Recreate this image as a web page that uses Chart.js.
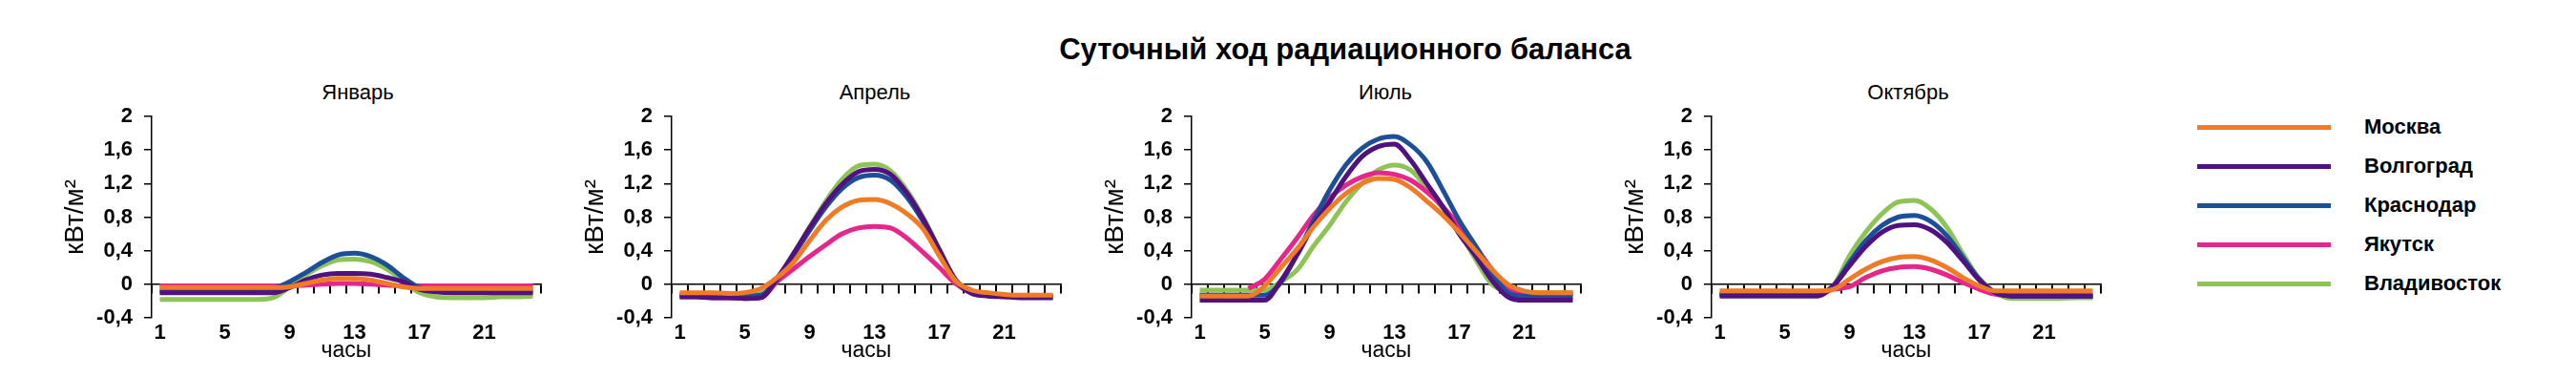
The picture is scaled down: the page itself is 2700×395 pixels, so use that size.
<!DOCTYPE html>
<html lang="ru">
<head>
  <meta charset="UTF-8" />
  <title>Суточный ход радиационного баланса</title>
  <script src="https://cdn.jsdelivr.net/npm/chart.js"></script>
  <style>
    body {
      margin: 0;
      width: 2700px;
      height: 395px;
      background: #fff;
      position: relative;
      overflow: hidden;
      font-family: 'Liberation Sans', Arial, sans-serif;
      color: #000;
    }
    #title {
      position: absolute;
      left: 1410px;
      top: 36px;
      transform: translateX(-50%);
      font-size: 31px;
      line-height: 31px;
      font-weight: bold;
      white-space: nowrap;
    }
    .month {
      position: absolute;
      top: 85px;
      transform: translateX(-50%);
      font-size: 22px;
      line-height: 24px;
      white-space: nowrap;
    }
    .panel {
      position: absolute;
      top: 0;
    }
    .legend-line {
      position: absolute;
      left: 2303px;
      width: 140px;
      height: 5px;
    }
    .legend-text {
      position: absolute;
      left: 2478px;
      font-size: 22px;
      line-height: 26px;
      font-weight: bold;
      white-space: nowrap;
    }
  </style>
</head>
<body>

  <div id="title">Суточный ход радиационного баланса</div>

  <script>
    const hours = [1, 2, 3, 4, 5, 6, 7, 8, 9, 10, 11, 12, 13, 14, 15, 16, 17, 18, 19, 20, 21, 22, 23, 24];
    const hourTicks = [1, 5, 9, 13, 17, 21];
    const yTicks = [-0.4, 0, 0.4, 0.8, 1.2, 1.6, 2];
    const yTickLabels = ['-0,4', '0', '0,4', '0,8', '1,2', '1,6', '2'];
    const months = ['Январь', 'Апрель', 'Июль', 'Октябрь'];
    const cities = ['Москва', 'Волгоград', 'Краснодар', 'Якутск', 'Владивосток'];
    const cityColors = ['#ef7b26', '#511180', '#1c4f97', '#e5268b', '#8ec456'];

    // январь
    const janMoskva = [-0.04, -0.04, -0.04, -0.04, -0.04, -0.04, -0.04, -0.04, -0.03, 0.01, 0.05, 0.07, 0.07, 0.05, 0.01, -0.03, -0.05, -0.05, -0.05, -0.05, -0.05, -0.05, -0.05, -0.05];
    const janVolgograd = [-0.10, -0.10, -0.10, -0.10, -0.10, -0.10, -0.10, -0.10, -0.04, 0.05, 0.11, 0.13, 0.13, 0.12, 0.08, 0.03, -0.06, -0.09, -0.10, -0.10, -0.10, -0.10, -0.10, -0.10];
    const janKrasnodar = [-0.08, -0.08, -0.08, -0.08, -0.08, -0.08, -0.08, -0.05, 0.03, 0.14, 0.26, 0.35, 0.37, 0.33, 0.23, 0.08, -0.04, -0.08, -0.08, -0.08, -0.08, -0.08, -0.08, -0.08];
    const janYakutsk = [-0.02, -0.02, -0.02, -0.02, -0.02, -0.02, -0.02, -0.02, -0.02, -0.01, 0.00, 0.01, 0.01, 0.00, -0.01, -0.02, -0.02, -0.02, -0.02, -0.02, -0.02, -0.02, -0.02, -0.02];
    const janVladivostok = [-0.18, -0.18, -0.18, -0.18, -0.18, -0.18, -0.18, -0.16, -0.03, 0.11, 0.22, 0.29, 0.30, 0.27, 0.18, 0.04, -0.10, -0.15, -0.16, -0.16, -0.16, -0.15, -0.15, -0.14];

    // апрель
    const aprMoskva = [-0.10, -0.10, -0.10, -0.11, -0.10, -0.05, 0.08, 0.26, 0.52, 0.76, 0.92, 1.00, 1.01, 0.96, 0.84, 0.66, 0.34, 0.04, -0.07, -0.10, -0.12, -0.13, -0.13, -0.13];
    const aprVolgograd = [-0.15, -0.15, -0.16, -0.16, -0.17, -0.16, 0.07, 0.36, 0.67, 0.96, 1.19, 1.34, 1.37, 1.31, 1.09, 0.78, 0.41, 0.05, -0.11, -0.14, -0.15, -0.16, -0.16, -0.16];
    const aprKrasnodar = [-0.13, -0.13, -0.13, -0.13, -0.14, -0.13, 0.06, 0.34, 0.64, 0.92, 1.14, 1.27, 1.30, 1.24, 1.04, 0.75, 0.40, 0.05, -0.09, -0.12, -0.13, -0.14, -0.14, -0.14];
    const aprYakutsk = [-0.15, -0.15, -0.16, -0.16, -0.17, -0.16, 0.03, 0.18, 0.33, 0.47, 0.60, 0.67, 0.69, 0.67, 0.55, 0.38, 0.20, 0.01, -0.10, -0.13, -0.14, -0.15, -0.15, -0.15];
    const aprVladivostok = [-0.12, -0.12, -0.12, -0.12, -0.12, -0.11, 0.07, 0.36, 0.68, 0.99, 1.25, 1.41, 1.43, 1.35, 1.12, 0.80, 0.42, 0.06, -0.09, -0.12, -0.13, -0.14, -0.14, -0.14];

    // июль
    const julMoskva = [-0.14, -0.14, -0.14, -0.14, -0.02, 0.20, 0.42, 0.68, 0.90, 1.08, 1.20, 1.26, 1.25, 1.15, 0.99, 0.82, 0.62, 0.40, 0.18, 0.00, -0.08, -0.10, -0.10, -0.10];
    const julVolgograd = [-0.19, -0.19, -0.19, -0.19, -0.19, 0.04, 0.35, 0.70, 0.98, 1.28, 1.52, 1.64, 1.67, 1.48, 1.20, 0.92, 0.60, 0.34, 0.05, -0.15, -0.19, -0.19, -0.19, -0.19];
    const julKrasnodar = [-0.13, -0.13, -0.13, -0.13, -0.13, 0.02, 0.36, 0.75, 1.12, 1.42, 1.62, 1.73, 1.76, 1.66, 1.46, 1.12, 0.76, 0.46, 0.14, -0.10, -0.14, -0.14, -0.14, -0.14];
    const julYakutsk = [null, null, null, -0.05, 0.06, 0.30, 0.55, 0.82, 1.03, 1.18, 1.28, 1.33, 1.31, 1.24, 1.10, 0.92, 0.70, 0.45, 0.18, -0.05, -0.12, -0.12, -0.12, -0.12];
    const julVladivostok = [-0.07, -0.07, -0.07, -0.07, -0.07, 0.03, 0.17, 0.45, 0.70, 0.98, 1.20, 1.36, 1.42, 1.36, 1.15, 0.90, 0.63, 0.30, 0.00, -0.08, -0.10, -0.10, -0.10, -0.10];

    // октябрь
    const octMoskva = [-0.08, -0.08, -0.08, -0.08, -0.08, -0.08, -0.08, -0.06, 0.06, 0.18, 0.27, 0.32, 0.33, 0.29, 0.20, 0.08, -0.02, -0.08, -0.08, -0.08, -0.08, -0.08, -0.08, -0.08];
    const octVolgograd = [-0.14, -0.14, -0.14, -0.14, -0.14, -0.14, -0.14, -0.02, 0.22, 0.45, 0.62, 0.70, 0.71, 0.65, 0.50, 0.28, 0.05, -0.10, -0.14, -0.14, -0.14, -0.14, -0.14, -0.14];
    const octKrasnodar = [-0.12, -0.12, -0.12, -0.12, -0.12, -0.12, -0.12, -0.02, 0.26, 0.52, 0.70, 0.80, 0.82, 0.75, 0.58, 0.32, 0.06, -0.10, -0.14, -0.14, -0.14, -0.14, -0.14, -0.14];
    const octYakutsk = [-0.12, -0.12, -0.12, -0.12, -0.12, -0.12, -0.12, -0.06, -0.03, 0.08, 0.16, 0.20, 0.21, 0.18, 0.11, 0.02, -0.06, -0.12, -0.13, -0.13, -0.13, -0.13, -0.13, -0.13];
    const octVladivostok = [-0.12, -0.12, -0.12, -0.12, -0.12, -0.12, -0.12, -0.02, 0.34, 0.62, 0.84, 0.98, 1.00, 0.90, 0.68, 0.36, 0.07, -0.10, -0.17, -0.17, -0.17, -0.17, -0.16, -0.16];

    const monthSeries = [
      [janMoskva, janVolgograd, janKrasnodar, janYakutsk, janVladivostok],
      [aprMoskva, aprVolgograd, aprKrasnodar, aprYakutsk, aprVladivostok],
      [julMoskva, julVolgograd, julKrasnodar, julYakutsk, julVladivostok],
      [octMoskva, octVolgograd, octKrasnodar, octYakutsk, octVladivostok]
    ];

    // page layout
    const axisLeft = [159, 704, 1249, 1794];
    const monthCenter = [375, 917, 1452, 2000];
    const yAxisWidth = 100;
    const canvasW = 513;
    const canvasH = 395;

    Chart.defaults.font.family = "'Liberation Sans', Arial, sans-serif";
    Chart.defaults.color = '#000';

    months.forEach((month, i) => {
      const label = document.createElement('div');
      label.className = 'month';
      label.style.left = monthCenter[i] + 'px';
      label.textContent = month;
      document.body.appendChild(label);

      const box = document.createElement('div');
      box.className = 'panel';
      box.style.left = (axisLeft[i] - yAxisWidth) + 'px';
      const canvas = document.createElement('canvas');
      canvas.width = canvasW;
      canvas.height = canvasH;
      box.appendChild(canvas);
      document.body.appendChild(box);

      new Chart(canvas, {
        type: 'line',
        data: {
          datasets: cities.map((city, k) => ({
            label: city,
            data: hours.map((h, j) => ({ x: h, y: monthSeries[i][k][j] })),
            borderColor: cityColors[k],
            backgroundColor: cityColors[k],
            borderWidth: 5,
            pointRadius: 0,
            cubicInterpolationMode: 'monotone',
            fill: false,
            xAxisID: 'x',
            yAxisID: 'y'
          }))
        },
        options: {
          responsive: false,
          animation: false,
          layout: { padding: { top: 122, right: 5, bottom: 0, left: 0 } },
          plugins: {
            legend: { display: false },
            tooltip: { enabled: false }
          },
          scales: {
            x: {
              type: 'linear',
              position: 'bottom',
              min: 0.5,
              max: 24.5,
              afterBuildTicks: s => { s.ticks = hourTicks.map(v => ({ value: v })); },
              afterFit: s => { s.height = 62; },
              grid: { display: false, drawTicks: false },
              border: { display: false },
              ticks: { color: '#000', font: { size: 22, weight: 'bold' }, padding: 3, maxRotation: 0, autoSkip: false },
              title: { display: true, text: 'часы', color: '#000', font: { size: 23 }, padding: { top: 0, bottom: 14 } }
            },
            x0: {
              type: 'linear',
              position: { y: 0 },
              min: 0.5,
              max: 24.5,
              afterBuildTicks: s => {
                s.ticks = hours.map(h => ({ value: h - 0.5 })).concat([{ value: 24.5 }]);
              },
              grid: { display: true, drawOnChartArea: false, drawTicks: true, tickLength: 9, color: '#000', lineWidth: 2 },
              border: { display: true, color: '#000', width: 1.5 },
              ticks: { display: false, autoSkip: false }
            },
            y: {
              type: 'linear',
              position: 'left',
              min: -0.4,
              max: 2,
              afterBuildTicks: s => { s.ticks = yTicks.map(v => ({ value: v })); },
              afterFit: s => { s.width = yAxisWidth; },
              grid: { drawOnChartArea: false, drawTicks: true, tickLength: 8, color: '#000', lineWidth: 1.5 },
              border: { display: true, color: '#000', width: 1.5 },
              ticks: { color: '#000', font: { size: 22, weight: 'bold' }, padding: 12, callback: (v, idx) => yTickLabels[idx] },
              title: { display: true, text: 'кВт/м²', color: '#000', font: { size: 28 }, padding: { top: 3, bottom: 0 } }
            }
          }
        }
      });
    });

    // legend
    const legendTop = 133;
    const legendStep = 41;
    cities.forEach((city, k) => {
      const y = legendTop + k * legendStep;
      const line = document.createElement('div');
      line.className = 'legend-line';
      line.style.top = (y - 2) + 'px';
      line.style.background = cityColors[k];
      document.body.appendChild(line);

      const txt = document.createElement('div');
      txt.className = 'legend-text';
      txt.style.top = (y - 13) + 'px';
      txt.textContent = city;
      document.body.appendChild(txt);
    });
  </script>

</body>
</html>
